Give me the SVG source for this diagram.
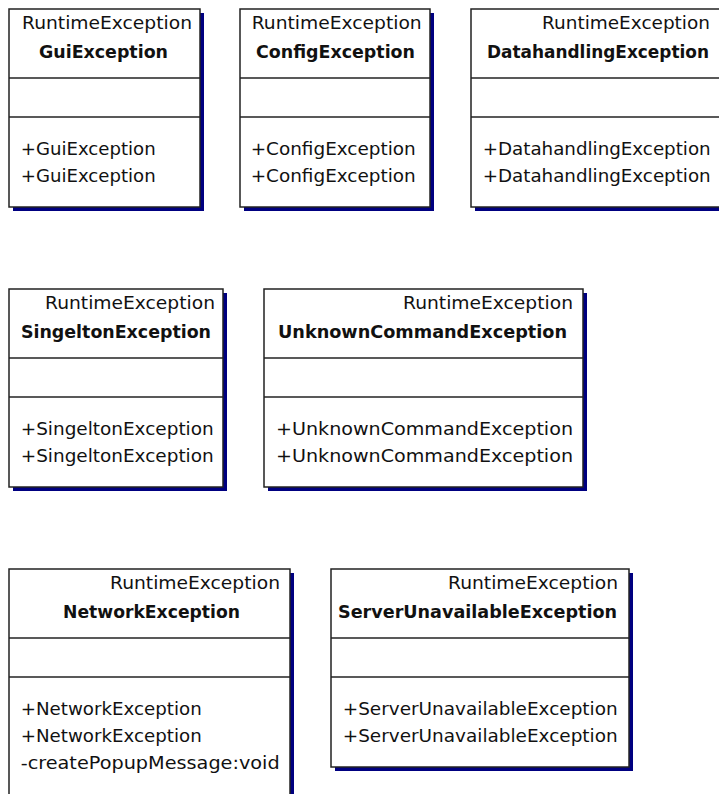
<svg xmlns="http://www.w3.org/2000/svg" width="719" height="794" viewBox="0 0 719 794">
  <style>
    text { font-family: "DejaVu Sans", "Liberation Sans", sans-serif; font-size: 18px; fill: #111; }
    .stereo { text-anchor: end; }
    .name { text-anchor: middle; font-weight: bold; font-size: 17px; }
    .member { text-anchor: start; }
    .shadow { fill: #000080; }
    .box { fill: #ffffff; stroke: #222222; stroke-width: 1.5; }
    .sep { stroke: #222222; stroke-width: 1.5; }
  </style>

  <!-- row 1 -->
  <g id="GuiException">
    <rect class="shadow" x="13" y="13" width="191" height="198"/>
    <rect class="box" x="9" y="9" width="191" height="198"/>
    <line class="sep" x1="9" y1="78" x2="200" y2="78"/>
    <line class="sep" x1="9" y1="117" x2="200" y2="117"/>
    <text class="stereo" x="192" y="29" textLength="170" lengthAdjust="spacingAndGlyphs">RuntimeException</text>
    <text class="name" x="103.5" y="58" textLength="129" lengthAdjust="spacingAndGlyphs">GuiException</text>
    <text class="member" x="20.7" y="155" textLength="135" lengthAdjust="spacingAndGlyphs">+GuiException</text>
    <text class="member" x="20.7" y="182" textLength="135" lengthAdjust="spacingAndGlyphs">+GuiException</text>
  </g>

  <g id="ConfigException">
    <rect class="shadow" x="244" y="13" width="190" height="198"/>
    <rect class="box" x="240" y="9" width="190" height="198"/>
    <line class="sep" x1="240" y1="78" x2="430" y2="78"/>
    <line class="sep" x1="240" y1="117" x2="430" y2="117"/>
    <text class="stereo" x="421.7" y="29" textLength="170" lengthAdjust="spacingAndGlyphs">RuntimeException</text>
    <text class="name" x="335.5" y="58" textLength="159" lengthAdjust="spacingAndGlyphs">ConfigException</text>
    <text class="member" x="250.7" y="155" textLength="165" lengthAdjust="spacingAndGlyphs">+ConfigException</text>
    <text class="member" x="250.7" y="182" textLength="165" lengthAdjust="spacingAndGlyphs">+ConfigException</text>
  </g>

  <g id="DatahandlingException">
    <rect class="shadow" x="475" y="13" width="256" height="198"/>
    <rect class="box" x="471" y="9" width="256" height="198"/>
    <line class="sep" x1="471" y1="78" x2="727" y2="78"/>
    <line class="sep" x1="471" y1="117" x2="727" y2="117"/>
    <text class="stereo" x="710" y="29" textLength="168" lengthAdjust="spacingAndGlyphs">RuntimeException</text>
    <text class="name" x="598" y="58" textLength="222" lengthAdjust="spacingAndGlyphs">DatahandlingException</text>
    <text class="member" x="482.7" y="155" textLength="228" lengthAdjust="spacingAndGlyphs">+DatahandlingException</text>
    <text class="member" x="482.7" y="182" textLength="228" lengthAdjust="spacingAndGlyphs">+DatahandlingException</text>
  </g>

  <!-- row 2 -->
  <g id="SingeltonException">
    <rect class="shadow" x="13" y="293" width="214" height="198"/>
    <rect class="box" x="9" y="289" width="214" height="198"/>
    <line class="sep" x1="9" y1="358" x2="223" y2="358"/>
    <line class="sep" x1="9" y1="397" x2="223" y2="397"/>
    <text class="stereo" x="215" y="309" textLength="170" lengthAdjust="spacingAndGlyphs">RuntimeException</text>
    <text class="name" x="116" y="338" textLength="190" lengthAdjust="spacingAndGlyphs">SingeltonException</text>
    <text class="member" x="20.7" y="435" textLength="193" lengthAdjust="spacingAndGlyphs">+SingeltonException</text>
    <text class="member" x="20.7" y="462" textLength="193" lengthAdjust="spacingAndGlyphs">+SingeltonException</text>
  </g>

  <g id="UnknownCommandException">
    <rect class="shadow" x="268" y="293" width="319" height="198"/>
    <rect class="box" x="264" y="289" width="319" height="198"/>
    <line class="sep" x1="264" y1="358" x2="583" y2="358"/>
    <line class="sep" x1="264" y1="397" x2="583" y2="397"/>
    <text class="stereo" x="573" y="309" textLength="170" lengthAdjust="spacingAndGlyphs">RuntimeException</text>
    <text class="name" x="422.5" y="338" textLength="289" lengthAdjust="spacingAndGlyphs">UnknownCommandException</text>
    <text class="member" x="276" y="435" textLength="297" lengthAdjust="spacingAndGlyphs">+UnknownCommandException</text>
    <text class="member" x="276" y="462" textLength="297" lengthAdjust="spacingAndGlyphs">+UnknownCommandException</text>
  </g>

  <!-- row 3 -->
  <g id="NetworkException">
    <rect class="shadow" x="13" y="573" width="281" height="240"/>
    <rect class="box" x="9" y="569" width="281" height="240"/>
    <line class="sep" x1="9" y1="638" x2="290" y2="638"/>
    <line class="sep" x1="9" y1="677" x2="290" y2="677"/>
    <text class="stereo" x="280" y="589" textLength="170" lengthAdjust="spacingAndGlyphs">RuntimeException</text>
    <text class="name" x="151.5" y="618" textLength="177" lengthAdjust="spacingAndGlyphs">NetworkException</text>
    <text class="member" x="20.7" y="715" textLength="181" lengthAdjust="spacingAndGlyphs">+NetworkException</text>
    <text class="member" x="20.7" y="742" textLength="181" lengthAdjust="spacingAndGlyphs">+NetworkException</text>
    <text class="member" x="20.7" y="769" textLength="259" lengthAdjust="spacingAndGlyphs">-createPopupMessage:void</text>
  </g>

  <g id="ServerUnavailableException">
    <rect class="shadow" x="335" y="573" width="298" height="198"/>
    <rect class="box" x="331" y="569" width="298" height="198"/>
    <line class="sep" x1="331" y1="638" x2="629" y2="638"/>
    <line class="sep" x1="331" y1="677" x2="629" y2="677"/>
    <text class="stereo" x="618" y="589" textLength="170" lengthAdjust="spacingAndGlyphs">RuntimeException</text>
    <text class="name" x="477.5" y="618" textLength="279" lengthAdjust="spacingAndGlyphs">ServerUnavailableException</text>
    <text class="member" x="342.7" y="715" textLength="275" lengthAdjust="spacingAndGlyphs">+ServerUnavailableException</text>
    <text class="member" x="342.7" y="742" textLength="275" lengthAdjust="spacingAndGlyphs">+ServerUnavailableException</text>
  </g>

  <!-- no connectors between these classes -->
  <g id="connectors"/>
</svg>
